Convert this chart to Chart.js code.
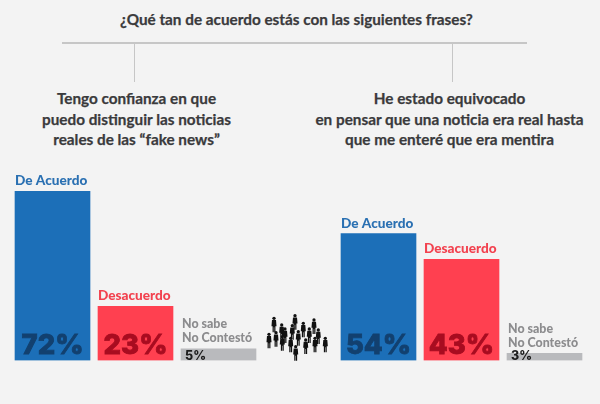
<!DOCTYPE html>
<html><head><meta charset="utf-8">
<script src="https://cdn.jsdelivr.net/npm/chart.js@4"></script>
<style>
html,body{margin:0;padding:0;background:#f3f3f3;width:600px;height:404px;overflow:hidden;position:relative;font-family:Lato,sans-serif}
.t{position:absolute;text-align:center;font-weight:700;color:#3a3a3c;white-space:nowrap;font-size:15.3px;line-height:20.5px;transform:translateX(-50%);-webkit-text-stroke:.25px #3a3a3c}
.l{position:absolute;background:#c6c6c6}
svg{position:absolute;left:262px;top:310px}
</style></head><body>
<div class="t" id="main" style="left:296.5px;top:9px"></div>
<div class="l" style="left:62px;top:42px;width:465px;height:1.5px"></div>
<div class="l" style="left:134px;top:43px;width:1px;height:39px"></div>
<div class="l" style="left:452px;top:43px;width:1px;height:39px"></div>
<div class="t" id="q1" style="left:136.5px;top:88px"></div>
<div class="t" id="q2" style="left:449.5px;top:88px"></div>
<div style="position:absolute;left:0;top:150px;width:300px;height:254px"><canvas id="a"></canvas></div>
<div style="position:absolute;left:300px;top:150px;width:300px;height:254px"><canvas id="b"></canvas></div>
<svg id="crowd" width="74" height="56" viewBox="0 0 74 56"></svg>
<script>
const mainTitle = "¿Qué tan de acuerdo estás con las siguientes frases?";
const question1 = ["Tengo confianza en que","puedo distinguir las noticias","reales de las “fake news”"];
const question2 = ["He estado equivocado","en pensar que una noticia era real hasta","que me enteré que era mentira"];
const categories = ["De Acuerdo","Desacuerdo","No sabe|No Contestó"];
const values1 = [72,23,5];
const values2 = [54,43,3];
const barColors = ["#1c6fb8","#ff4050","#b9babd"];
const labelColors = ["#2a70b2","#f2424f","#8c8c8e"];
const valueColors = ["#12406f","#a80c20","#1c1c1c"];

document.getElementById('main').textContent = mainTitle;
document.getElementById('q1').innerHTML = question1.join('<br>');
document.getElementById('q2').innerHTML = question2.join('<br>');

const labelPlugin = {
  id:'barText',
  afterDatasetsDraw(chart){
    const ctx = chart.ctx, meta = chart.getDatasetMeta(0), data = chart.data.datasets[0].data;
    meta.data.forEach((bar,i)=>{
      const left = bar.x - bar.width/2;
      ctx.save();
      ctx.textBaseline='alphabetic';
      ctx.fillStyle = labelColors[i];
      if(i<2){
        ctx.font = '900 13.6px Lato, sans-serif';
        ctx.fillText(chart.data.labels[i], left, bar.y-6);
      } else {
        const parts = chart.data.labels[i].split('|');
        ctx.font = '900 12.4px Lato, sans-serif';
        ctx.fillText(parts[0], left+1, bar.y-20.5);
        ctx.fillText(parts[1], left+1, bar.y-6.5);
      }
      ctx.fillStyle = valueColors[i];
      ctx.strokeStyle = valueColors[i];
      ctx.textAlign='center';
      if(i<2){
        ctx.font = '800 27.5px Inter, sans-serif';
        ctx.lineWidth = 0.8;
        ctx.strokeText(data[i]+'%', bar.x, chart.scales.y.bottom-6.5);
        ctx.fillText(data[i]+'%', bar.x, chart.scales.y.bottom-6.5);
      } else {
        ctx.font = '800 12.5px Inter, sans-serif';
        ctx.fillText(data[i]+'%', left+14.5, chart.scales.y.bottom-1);
      }
      ctx.restore();
    });
  }
};
function makeChart(id, values, padLeft, padRight){
  return new Chart(document.getElementById(id),{
    type:'bar',
    data:{labels:categories,datasets:[{data:values,backgroundColor:barColors,barThickness:75,borderWidth:0}]},
    plugins:[labelPlugin],
    options:{
      responsive:true,maintainAspectRatio:false,animation:false,
      layout:{padding:{left:padLeft,right:padRight,top:22.5,bottom:43.5}},
      plugins:{legend:{display:false},tooltip:{enabled:false},title:{display:false}},
      scales:{
        x:{display:false},
        y:{display:false,min:0,max:80}
      }
    }
  });
}
makeChart('a',values1,11,40);
makeChart('b',values2,37,14);

// decorative crowd pictogram
const people = [[12,8.3],[33,5.7],[52,10],[41.3,13.3],[19.7,15],[30.3,15.7],[14,22.7],[23,19],[7,24.3],[56.3,20],[47.3,19],[36.3,21.7],[63.3,28.3],[53,28.3],[43.7,30],[28.7,28.3],[20.3,26.7],[33.7,36.7]];
const svg = document.getElementById('crowd');
svg.innerHTML = people.map(([x,y])=>`<g fill="#111" transform="translate(${x} ${y}) scale(.72)"><circle cx="0" cy="0" r="2.3"/><path d="M-2.8 2.4h5.6l.7 8.5h-1.5v8.5h-1.7v-7h-.6v7h-1.7v-8.5h-1.5z"/></g>`).join('');
</script>
</body></html>
